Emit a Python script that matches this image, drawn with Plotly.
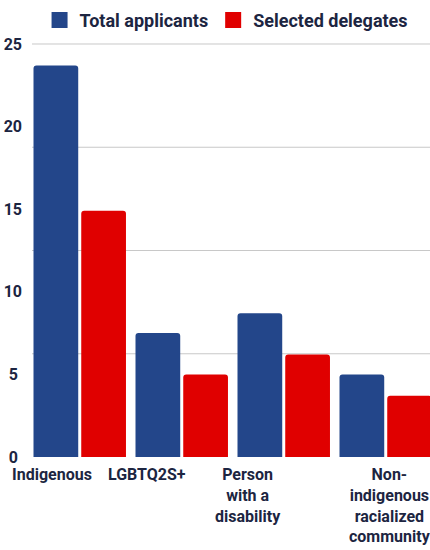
import plotly.graph_objects as go

categories = ["Indigenous", "LGBTQ2S+", "Person<br>with a<br>disability", "Non-<br>indigenous<br>racialized<br>community"]
total_applicants = [23.7, 7.5, 8.7, 5.0]
selected_delegates = [14.9, 5.0, 6.2, 3.7]
y_tick_values = [0, 5, 10, 15, 20, 25]
y_tick_text = ["0\u2005", "5\u2005", "10", "15", "20", "25"]
grid_values = [6.25, 12.5, 18.75, 25]
label_offsets = [-0.276, -0.345, -0.35, 0.042]

FONT = "Roboto"
TXT = "#1c2541"
BLUE = "#23468a"
RED = "#e00000"
GRID = "#c8c8c8"

xs = list(range(len(categories)))

fig = go.Figure()
fig.add_trace(go.Bar(x=xs, y=total_applicants, name="Total applicants",
                     marker=dict(color=BLUE, line=dict(width=0)), showlegend=False,
                     legendgroup="t"))
fig.add_trace(go.Bar(x=xs, y=selected_delegates, name="Selected delegates",
                     marker=dict(color=RED, line=dict(width=0)), showlegend=False,
                     legendgroup="s"))
# legend entries (square swatches)
fig.add_trace(go.Scatter(x=[None], y=[None], mode="markers", name="Total applicants",
                         legendgroup="t",
                         marker=dict(symbol="square", size=21, color=BLUE)))
fig.add_trace(go.Scatter(x=[None], y=[None], mode="markers", name="Selected delegates",
                         legendgroup="s",
                         marker=dict(symbol="square", size=21, color=RED)))

for g in grid_values:
    fig.add_hline(y=g, line=dict(color=GRID, width=1), layer="below")

for x, o, label in zip(xs, label_offsets, categories):
    fig.add_annotation(x=x + o, xref="x", y=0, yref="paper", yshift=-6,
                       text=label, showarrow=False, xanchor="center", yanchor="top",
                       align="center",
                       font=dict(family=FONT, size=16, color=TXT, weight="bold"))

fig.update_layout(
    width=430, height=550,
    margin=dict(l=32, r=0, t=43, b=93),
    paper_bgcolor="white", plot_bgcolor="white",
    barmode="group", bargap=0.064, bargroupgap=0.063, barcornerradius=3,
    font=dict(family=FONT, color=TXT, size=16),
    legend=dict(orientation="h", x=0.019, xanchor="left", y=1.055, yanchor="middle",
                font=dict(family=FONT, size=18, color=TXT, weight="bold"),
                itemwidth=30, traceorder="normal", itemsizing="trace"),
    xaxis=dict(range=[-0.468, 3.434], showticklabels=False, showgrid=False,
               zeroline=False, showline=False, ticks="", automargin=False),
    yaxis=dict(range=[0, 25.06], tickmode="array", tickvals=y_tick_values,
               ticktext=y_tick_text,
               showgrid=False, zeroline=False, showline=False, ticks="",
               ticklabelstandoff=9, automargin=False,
               tickfont=dict(family=FONT, size=16, color=TXT, weight="bold")),
)

fig.write_html("out.html", config={"displayModeBar": False},
               post_script="document.body.style.margin='0';document.body.style.overflow='hidden';")
